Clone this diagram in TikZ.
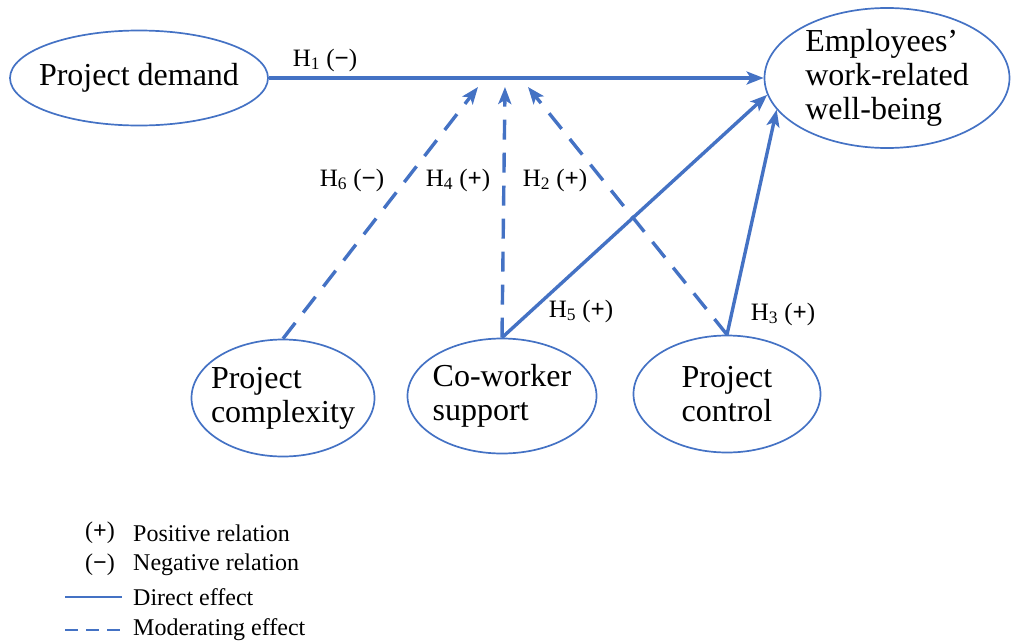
\documentclass[tikz,border=0pt]{standalone}
\usepackage{fontspec}
\setmainfont{Liberation Serif}
\usetikzlibrary{arrows.meta,shapes.geometric,positioning}
\definecolor{lineblue}{RGB}{68,114,196}

\begin{document}
\begin{tikzpicture}[x=1pt,y=-1pt,
  font=\fontsize{32}{34}\selectfont,
  var/.style={ellipse,draw=lineblue,line width=1.7pt,inner xsep=-12pt,inner ysep=0pt},
  hl/.style={font=\fontsize{25}{28}\selectfont,inner sep=0pt},
  lg/.style={font=\fontsize{24}{27}\selectfont,anchor=west,inner sep=0pt},
  dir/.style={draw=lineblue,line width=3.4pt,
              -{Stealth[length=17pt,width=13pt,inset=4pt]}},
  mod/.style={dir,dash pattern=on 20pt off 13pt}]
\useasboundingbox (0,0) rectangle (1013,643);
\node[var,minimum width=258,minimum height=95] (pd) at (139,78) {Project demand};
\node[var,minimum width=245,minimum height=140,align=left] (ew) at (887,78)
  {Employees'\\work-related\\well-being};
\node[var,minimum width=183,minimum height=117,align=left] (pcx) at (283,398)
  {Project\\complexity};
\node[var,minimum width=189,minimum height=115,align=left] (cw) at (502,396)
  {Co-worker\\support};
\node[var,minimum width=187,minimum height=117,align=center] (pc) at (727,394)
  {Project\\control};
\coordinate (m6) at (478,87);
\coordinate (m4) at (505,87);
\coordinate (m2) at (528,87);
\draw[dir] (pd.east) -- (ew.west);
\draw[dir] (cw.north) -- (ew.188);
\draw[dir] (pc.north) -- (ew.196);
\draw[mod] (pcx.north) -- (m6);
\draw[mod] (cw.north) -- (m4);
\draw[mod] (pc.north) -- (m2);
\node[hl] (h1) at (325,60) {H\textsubscript{1} (\textbf{−})};
\node[hl] (h6) at (352,180) {H\textsubscript{6} (\textbf{−})};
\node[hl] (h4) at (458,180) {H\textsubscript{4} (\textbf{+})};
\node[hl] (h2) at (555,180) {H\textsubscript{2} (\textbf{+})};
\node[hl] (h5) at (581,311) {H\textsubscript{5} (\textbf{+})};
\node[hl] (h3) at (783,314) {H\textsubscript{3} (\textbf{+})};
\node[lg] (lp) at (85,533) {(\textbf{+})};
\node[lg] (ln) at (85,565) {(\textbf{−})};
\node[lg] (tp) at (133,533) {Positive relation};
\node[lg] (tn) at (133,565) {Negative relation};
\node[lg] (td) at (133,597) {Direct effect};
\node[lg] (tm) at (133,630) {Moderating effect};
\coordinate (ld) at (65,597);
\coordinate (lm) at (65,630);
\draw[lineblue,line width=2pt,shorten >=11pt] (ld) -- (td.west);
\draw[lineblue,line width=2pt,dash pattern=on 13pt off 8pt,shorten >=11pt] (lm) -- (tm.west);
\end{tikzpicture}
\end{document}
